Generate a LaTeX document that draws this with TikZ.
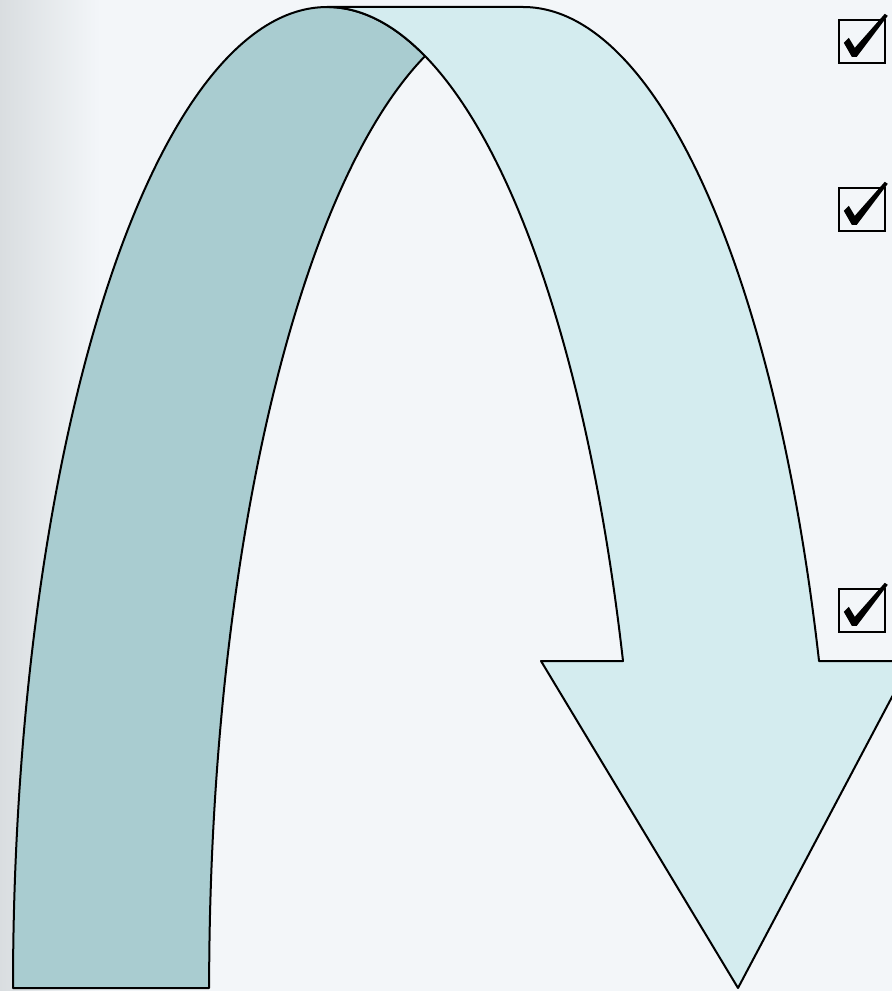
\documentclass[tikz,border=0pt]{standalone}
\begin{document}
\begin{tikzpicture}[x=0.025cm,y=-0.025cm,
  bandline/.style={draw=black,line width=0.05cm,line join=round},
  cbox/.style={draw=black,line width=0.06cm,minimum width=1.15cm,minimum height=1.075cm,inner sep=0pt,fill=none},
  tick/.style={fill=black}]
\definecolor{bg}{HTML}{F3F6F9}
\definecolor{bgedge}{HTML}{D9DDE0}
\definecolor{darkband}{HTML}{A9CCD0}
\definecolor{lightband}{HTML}{D4ECEF}
\useasboundingbox (0,0) rectangle (892,991);
\clip (0,0) rectangle (892,991);
\fill[bg] (0,0) rectangle (892,991);
\shade[left color=bgedge,right color=bg] (0,0) rectangle (100,991);
% dark (back) band
\path[fill=darkband,bandline] (13,988) arc[start angle=180,end angle=288.2,x radius=314,y radius=981]
  arc[start angle=251.8,end angle=180,x radius=314,y radius=981] -- cycle;
% light (front) band with arrow head
\path[fill=lightband,bandline] (327,7) -- (523,7)
  arc[start angle=270,end angle=340.53,x radius=314,y radius=981]
  -- (911,661) -- (738,988) -- (541,661) -- (623,661)
  arc[start angle=340.53,end angle=288.2,x radius=314,y radius=981]
  arc[start angle=288.2,end angle=270,x radius=314,y radius=981] -- cycle;
% check boxes
\node[cbox] (c1) at (862,41.5) {};
\node[cbox] (c2) at (862,209.5) {};
\node[cbox] (c3) at (862,610.5) {};
\foreach \b in {c1,c2,c3}{
  \begin{scope}[shift={(\b.north west)}]
    \fill[tick] (6,24) -- (11,19) -- (17,29) -- (47,-5) -- (50,-3) -- (19,38) -- (14,38) -- cycle;
  \end{scope}
}
\end{tikzpicture}
\end{document}
